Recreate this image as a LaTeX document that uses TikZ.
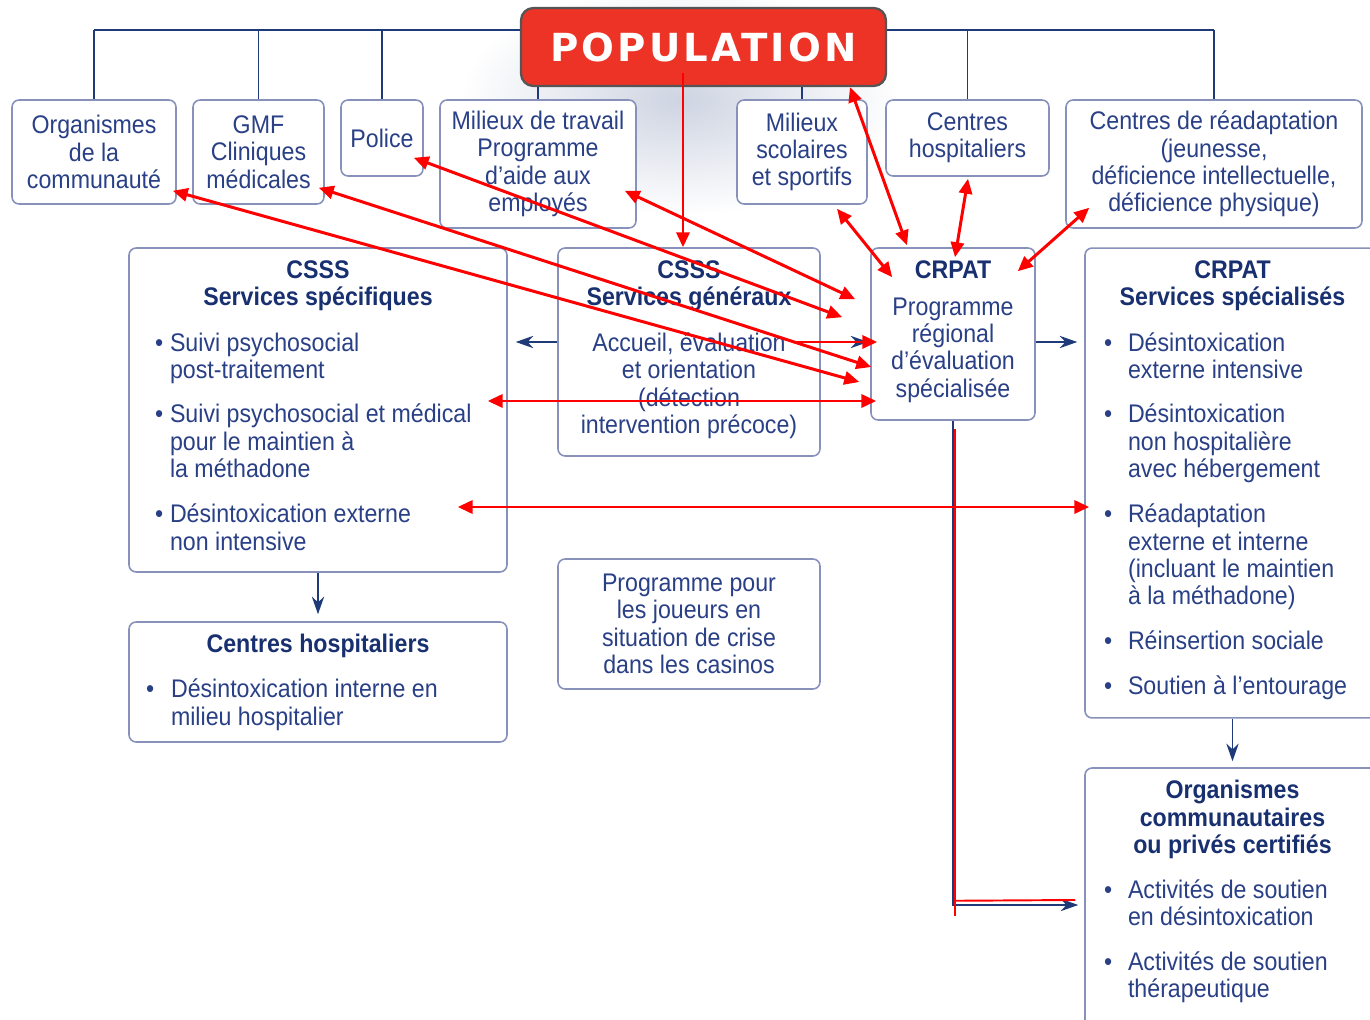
\documentclass[tikz,border=0pt]{standalone}
\usepackage{fontspec}
\setmainfont{Liberation Sans}[FakeStretch=0.91]
\newfontfamily\popfont{DejaVu Sans}[LetterSpace=8]
\usetikzlibrary{arrows.meta,calc}

\definecolor{texte}{RGB}{42,64,134}
\definecolor{titre}{RGB}{24,48,112}
\definecolor{cadre}{RGB}{135,145,185}
\definecolor{lien}{RGB}{30,58,120}
\definecolor{rouge}{RGB}{255,0,0}
\definecolor{popfond}{RGB}{236,51,38}
\definecolor{popbord}{RGB}{85,85,85}

\newlength{\retrait}
\newcommand{\contenu}[3]{\parbox[c][#2][t]{#1}{\raggedright\vspace*{7pt}#3}}
\newcommand{\titres}[1]{{\centering\leavevmode\bfseries\color{titre}#1\par}}
\newcommand{\puce}[1]{\par\noindent\hangindent=\retrait\hangafter=1 \makebox[\retrait][l]{\textbullet}{\let\\\newline#1}\par}

\tikzset{
  boite/.style={draw=cadre, fill=white, line width=0.9pt, rounded corners=4pt,
    inner sep=0pt, text=texte, font=\fontsize{14.5}{15.6}\selectfont},
  pop/.style={draw=popbord, fill=popfond, line width=1.3pt, rounded corners=7pt,
    text=white, font=\popfont\bfseries\fontsize{22}{24}\selectfont},
  trait/.style={draw=lien, line width=1.1pt},
  fleche/.style={trait, >={Stealth[length=10pt,width=7pt]}, ->},
  rougetrait/.style={draw=rouge, line width=1.7pt, >={Triangle[length=8.5pt,width=7.5pt]}},
  lienrouge/.style={rougetrait, <->},
  flecherouge/.style={rougetrait, ->},
}

\begin{document}
\begin{tikzpicture}[x=0.02cm,y=-0.02cm]
\useasboundingbox (0,0) rectangle (1370,1020);

% halo sous POPULATION
\shade[inner color=lien!22, outer color=white] (680,100) ellipse (220 and 115);

% rangee du haut
\node[boite, align=center, minimum width=3.28cm, minimum height=2.08cm] (orgCom) at (94,152) {Organismes\\de la\\communauté};
\node[boite, align=center, minimum width=2.62cm, minimum height=2.08cm] (gmf) at (258.5,152) {GMF\\Cliniques\\médicales};
\node[boite, align=center, minimum width=1.64cm, minimum height=1.52cm] (police) at (382,138) {Police};
\node[boite, align=center, minimum width=3.92cm, minimum height=2.56cm] (travail) at (538,164) {Milieux de travail\\Programme\\d'aide aux\\employés};
\node[boite, align=center, minimum width=2.6cm, minimum height=2.08cm] (scol) at (802,152) {Milieux\\scolaires\\et sportifs};
\node[boite, align=center, minimum width=3.26cm, minimum height=1.52cm] (chTop) at (967.5,138) {Centres\\hospitaliers};
\node[boite, align=center, minimum width=5.92cm, minimum height=2.56cm] (readapt) at (1214,164) {Centres de réadaptation\\(jeunesse,\\déficience intellectuelle,\\déficience physique)};

% services
\node[boite] (csssSpec) at (318,410) {\contenu{7.56cm}{6.48cm}{%
  \titres{CSSS\\Services spécifiques}\vspace{10.5pt}
  \leftskip=0.52cm\setlength{\retrait}{0.3cm}
  \puce{Suivi psychosocial\\post-traitement}\vspace{9.5pt}
  \puce{Suivi psychosocial et médical\\pour le maintien à\\la méthadone}\vspace{10pt}
  \puce{Désintoxication externe\\non intensive}}};
\node[boite] (csssGen) at (689,352) {\contenu{5.24cm}{4.16cm}{%
  \titres{CSSS\\Services généraux}\vspace{10.5pt}
  {\centering Accueil, évaluation\\et orientation\\(détection\\intervention précoce)\par}}};
\node[boite] (crpatProg) at (953,334) {\contenu{3.28cm}{3.44cm}{%
  \titres{CRPAT}\vspace{5.5pt}
  {\centering Programme\\régional\\d’évaluation\\spécialisée\par}}};
\node[boite] (crpatServ) at (1232.5,483) {\contenu{5.9cm}{9.4cm}{%
  \titres{CRPAT\\Services spécialisés}\vspace{10.5pt}
  \leftskip=0.38cm\setlength{\retrait}{0.48cm}
  \puce{Désintoxication\\externe intensive}\vspace{9.5pt}
  \puce{Désintoxication\\non hospitalière\\avec hébergement}\vspace{10pt}
  \puce{Réadaptation\\externe et interne\\(incluant le maintien\\à la méthadone)}\vspace{9.5pt}
  \puce{Réinsertion sociale}\vspace{10.5pt}
  \puce{Soutien à l’entourage}}};
\node[boite] (chBot) at (318,682) {\contenu{7.56cm}{2.4cm}{%
  \titres{Centres hospitaliers}\vspace{10pt}
  \leftskip=0.34cm\setlength{\retrait}{0.5cm}
  \puce{Désintoxication interne en\\milieu hospitalier}}};
\node[boite, align=center, minimum width=5.24cm, minimum height=2.6cm] (joueurs) at (689,624) {Programme pour\\les joueurs en\\situation de crise\\dans les casinos};
\node[boite] (orgCert) at (1232.5,899) {\contenu{5.9cm}{5.24cm}{%
  \titres{Organismes\\communautaires\\ou privés certifiés}\vspace{10pt}
  \leftskip=0.38cm\setlength{\retrait}{0.48cm}
  \puce{Activités de soutien\\en désintoxication}\vspace{9.5pt}
  \puce{Activités de soutien\\thérapeutique}}};

% bus du haut
\coordinate (bus) at (0,30);
\draw[trait] (orgCom.north |- bus) -- (readapt.north |- bus);
\foreach \b in {orgCom,gmf,police,travail,scol,chTop,readapt}
  \draw[trait] (\b.north) -- (\b.north |- bus);

\node[pop, minimum width=7.3cm, minimum height=1.56cm] (pop) at (703.5,47) {POPULATION};

% liens bleus
\draw[fleche, shorten >=0.16cm] ($(csssGen.west)+(0,-10)$) -- ($(csssSpec.east)+(0,-68)$);
\draw[fleche] ($(csssGen.east)+(0,-10)$) -- ($(crpatProg.west)+(-2,8)$);
\draw[fleche] ($(crpatProg.east)+(0,8)$) -- ($(crpatServ.west)+(-7,-141)$);
\draw[fleche, shorten >=0.14cm] (csssSpec.south) -- (chBot.north);
\draw[fleche, shorten >=0.12cm] (crpatServ.south) -- (orgCert.north);
\draw[fleche] (crpatProg.south) |- ($(orgCert.west)+(-6,6)$);

% fleches rouges
\draw[rouge, line width=1.1pt] ($(crpatProg.south)+(2,8)$) -- ++(0,487);
\draw[rouge, line width=1.1pt] ($(crpatProg.south)+(2,480)$) -- ($(orgCert.west)+(-9,1)$);
\draw[flecherouge] ($(pop.south)+(-20.5,-14)$) -- ($(csssGen.north)+(-6,0)$);
\draw[lienrouge] ($(pop.south)+(146.5,0)$) -- ($(crpatProg.north)+(-46,-2)$);
\draw[lienrouge] ($(scol.south)+(35,4)$) -- ($(crpatProg.north west)+(22,30)$);
\draw[lienrouge] ($(chTop.south)+(0.5,2)$) -- ($(crpatProg.north)+(2,10)$);
\draw[lienrouge] ($(readapt.south west)+(24,-21)$) -- ($(crpatProg.north east)+(-18,24)$);
\draw[lienrouge] ($(travail.south east)+(-12,-38)$) -- ($(crpatProg.north west)+(-15,52)$);
\draw[lienrouge] ($(police.south east)+(-10,-19)$) -- ($(crpatProg.north west)+(-28,70)$);
\draw[lienrouge] ($(gmf.south east)+(-6,-17)$) -- ($(crpatProg.west)+(1,33)$);
\draw[lienrouge] ($(orgCom.south east)+(-4,-14)$) -- ($(crpatProg.west)+(-11,48)$);
\draw[flecherouge] ($(csssGen.east)+(-25,-10)$) -- ($(crpatProg.west)+(7,8)$);
\draw[lienrouge] ($(csssSpec.east)+(-20,-9)$) -- ($(crpatProg.west)+(6,67)$);
\draw[lienrouge] ($(csssSpec.east)+(-50,97)$) -- ($(crpatServ.west)+(5,24)$);
\end{tikzpicture}
\end{document}
